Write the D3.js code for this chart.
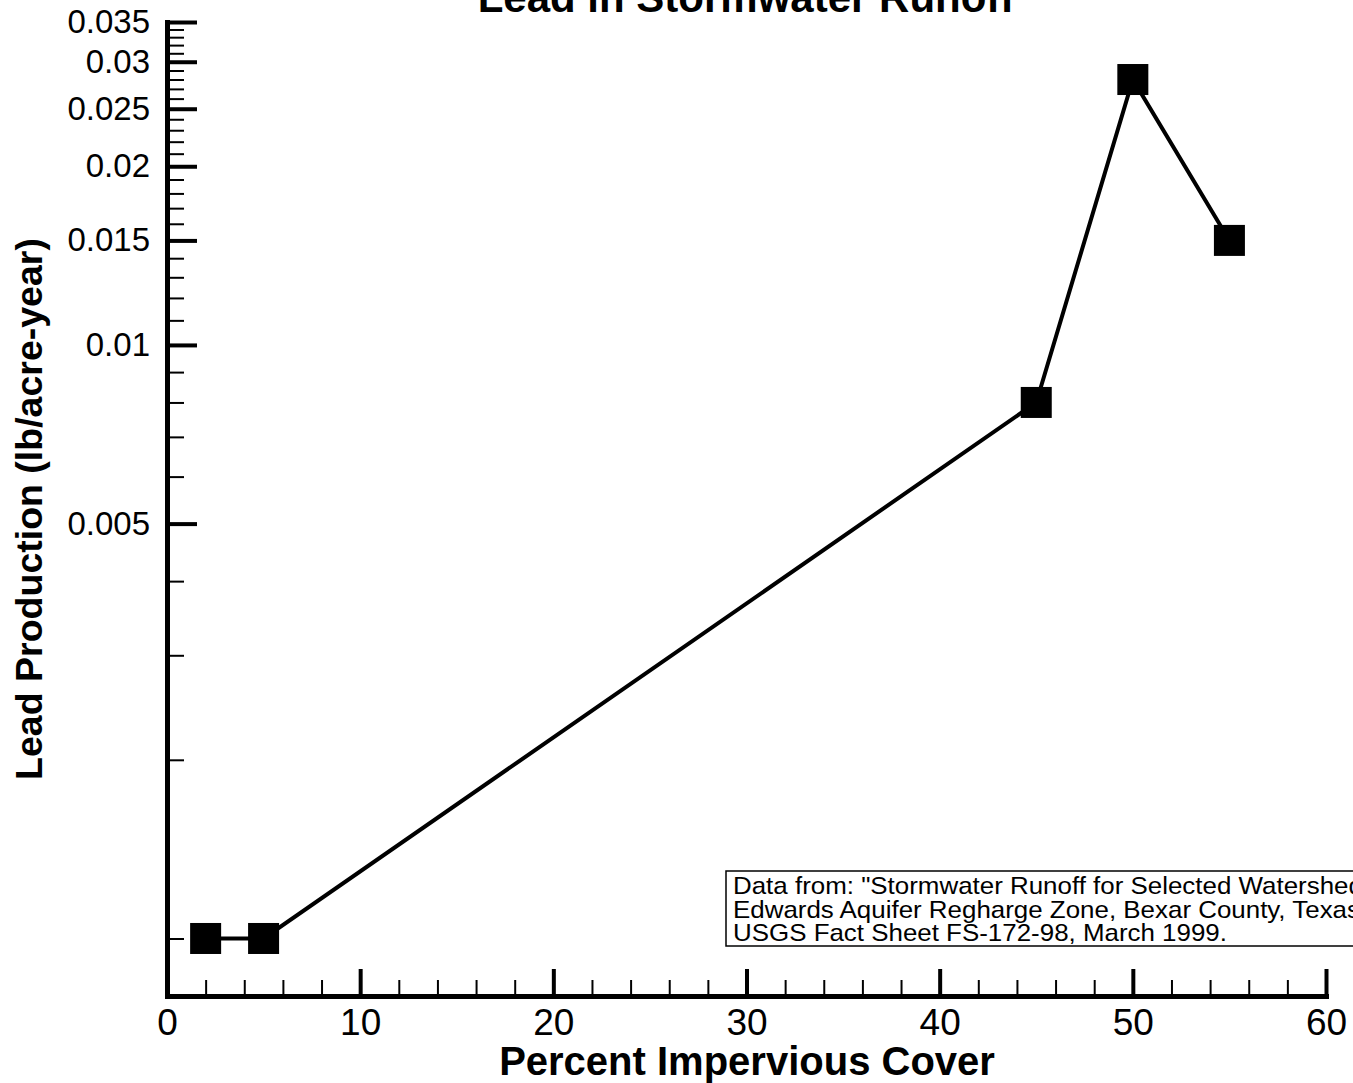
<!DOCTYPE html>
<html>
<head>
<meta charset="utf-8">
<script src="https://cdn.jsdelivr.net/npm/d3@7"></script>
<style>
  body { margin: 0; background: #fff; }
  text { font-family: "Liberation Sans", Arial, sans-serif; }
</style>
</head>
<body>
<div id="chart"></div>
<script>
// data
const percentImpervious = [2, 5, 45, 50, 55];
const leadProduction = [0.001, 0.001, 0.008, 0.028, 0.015];

const xMajorTicks = [0, 10, 20, 30, 40, 50, 60];
const xMinorTicks = [2, 4, 6, 8, 12, 14, 16, 18, 22, 24, 26, 28, 32, 34, 36, 38, 42, 44, 46, 48, 52, 54, 56, 58];
const yMajorTicks = [0.005, 0.01, 0.015, 0.02, 0.025, 0.03, 0.035];
const yMinorTicks = [0.001, 0.002, 0.003, 0.004, 0.006, 0.007, 0.008, 0.009,
    0.011, 0.012, 0.013, 0.014, 0.016, 0.017, 0.018, 0.019,
    0.021, 0.022, 0.023, 0.024, 0.026, 0.027, 0.028, 0.029,
    0.031, 0.032, 0.033, 0.034];

const sourceLines = [
    "Data from: \"Stormwater Runoff for Selected Watersheds in the",
    "Edwards Aquifer Regharge Zone, Bexar County, Texas, 1996-98\"",
    "USGS Fact Sheet FS-172-98, March 1999."
];

const width = 1353, height = 1083;
const axisX = 167, axisY = 996;

const x = d3.scaleLinear().domain([0, 60]).range([axisX, 1326]);
const y = d3.scaleLog().domain([0.0008, 0.035]).range([axisY, 22]);

const svg = d3.select("#chart").append("svg")
    .attr("width", width)
    .attr("height", height)
    .style("display", "block");

// Title (top is cut off in the original)
svg.append("text")
    .attr("x", 746)
    .attr("y", 12)
    .attr("text-anchor", "middle")
    .attr("font-size", 42)
    .attr("font-weight", "bold")
    .text("Lead in Stormwater Runoff");

// minor ticks
svg.append("g")
    .attr("transform", `translate(0,${axisY})`)
    .call(d3.axisBottom(x).tickValues(xMinorTicks).tickSize(-16).tickFormat(""))
    .call(g => g.select(".domain").remove())
    .selectAll("line").attr("stroke", "#000").attr("stroke-width", 2);

svg.append("g")
    .attr("transform", `translate(${axisX},0)`)
    .call(d3.axisLeft(y).tickValues(yMinorTicks).tickSize(-17).tickFormat(""))
    .call(g => g.select(".domain").remove())
    .selectAll("line").attr("stroke", "#000").attr("stroke-width", 2);

// major axes
const xAxis = svg.append("g")
    .attr("transform", `translate(0,${axisY})`)
    .call(d3.axisBottom(x).tickValues(xMajorTicks).tickSize(-27).tickSizeOuter(0).tickPadding(13));
xAxis.select(".domain").attr("stroke", "#000").attr("stroke-width", 5).attr("stroke-linecap", "square");
xAxis.selectAll(".tick line").attr("stroke", "#000").attr("stroke-width", 4);
xAxis.selectAll("text").attr("font-size", 37).attr("fill", "#000");

const yAxis = svg.append("g")
    .attr("transform", `translate(${axisX},0)`)
    .call(d3.axisLeft(y).tickValues(yMajorTicks).tickSize(-30).tickSizeOuter(0).tickPadding(17)
        .tickFormat(d => String(+d.toFixed(3))));
yAxis.select(".domain").attr("stroke", "#000").attr("stroke-width", 5).attr("stroke-linecap", "square");
yAxis.selectAll(".tick line").attr("stroke", "#000").attr("stroke-width", 4);
yAxis.selectAll("text").attr("font-size", 33).attr("fill", "#000");

// Axis labels
svg.append("text")
    .attr("x", 747)
    .attr("y", 1075)
    .attr("text-anchor", "middle")
    .attr("font-size", 40)
    .attr("font-weight", "bold")
    .text("Percent Impervious Cover");

svg.append("text")
    .attr("transform", "rotate(-90)")
    .attr("x", -509)
    .attr("y", 42)
    .attr("text-anchor", "middle")
    .attr("font-size", 37.5)
    .attr("font-weight", "bold")
    .text("Lead Production (lb/acre-year)");

// series
const points = percentImpervious.map((v, i) => ({ x: v, y: leadProduction[i] }));

svg.append("path")
    .datum(points)
    .attr("fill", "none")
    .attr("stroke", "#000")
    .attr("stroke-width", 4)
    .attr("d", d3.line().x(d => x(d.x)).y(d => y(d.y)));

const size = 31;
svg.selectAll("rect.marker")
    .data(points)
    .join("rect")
    .attr("class", "marker")
    .attr("x", d => x(d.x) - size / 2)
    .attr("y", d => y(d.y) - size / 2)
    .attr("width", size)
    .attr("height", size)
    .attr("fill", "#000");

// source note (runs off the right edge like the original)
const note = svg.append("g").attr("transform", "translate(726,871)");
note.append("rect")
    .attr("width", 760)
    .attr("height", 75)
    .attr("fill", "#fff")
    .attr("stroke", "#000")
    .attr("stroke-width", 1.5);
note.selectAll("text")
    .data(sourceLines)
    .join("text")
    .attr("transform", (d, i) => `translate(7,${23 + i * 23.5}) scale(1.08,1)`)
    .attr("font-size", 24)
    .text(d => d);
</script>
</body>
</html>
